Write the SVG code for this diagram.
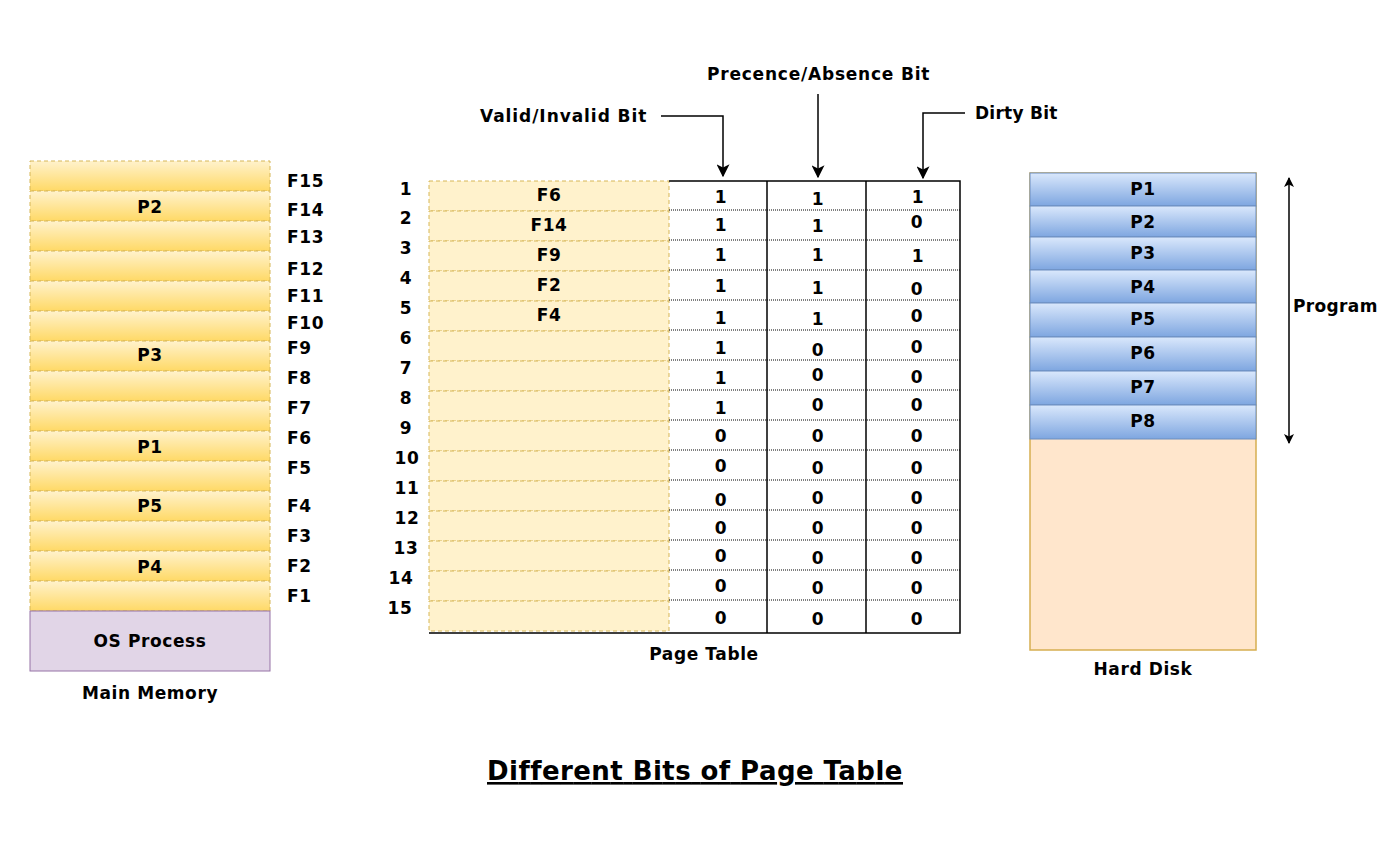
<svg xmlns="http://www.w3.org/2000/svg" width="1393" height="841" viewBox="0 0 1393 841">
<defs>
<linearGradient id="gy" x1="0" y1="0" x2="0" y2="1"><stop offset="0" stop-color="#fff2cc"/><stop offset="1" stop-color="#ffd966"/></linearGradient>
<linearGradient id="gb" x1="0" y1="0" x2="0" y2="1"><stop offset="0" stop-color="#dae8fc"/><stop offset="1" stop-color="#7ea6e0"/></linearGradient>
<marker id="ah" viewBox="0 0 10 10" refX="9" refY="5" markerWidth="10" markerHeight="10" markerUnits="userSpaceOnUse" orient="auto-start-reverse"><path d="M0,0 L10,5 L0,10 L2.5,5 Z" fill="#000"/></marker>
<marker id="ah2" viewBox="0 0 10 10" refX="9" refY="5" markerWidth="13" markerHeight="13" markerUnits="userSpaceOnUse" orient="auto-start-reverse"><path d="M0,0 L10,5 L0,10 L2.5,5 Z" fill="#000"/></marker>
<style>
text{font-family:"DejaVu Sans",Verdana,sans-serif;font-weight:bold;font-size:17px;letter-spacing:0.6px;fill:#000}
.c{text-anchor:middle}
.mm{fill:url(#gy);stroke:#d6b656;stroke-dasharray:4 3}
.pt{fill:#fff2cc;stroke:#d6b656;stroke-dasharray:4 3}
.hd{fill:url(#gb);stroke:#6c8ebf}
.dot{stroke:#000;stroke-width:1;stroke-dasharray:1 1}
.ln{stroke:#000;stroke-width:1.5;fill:none}
</style>
</defs>
<rect width="1393" height="841" fill="#fff"/>

<g id="main-memory">
<rect class="mm" x="30" y="161" width="240" height="30"/>
<rect class="mm" x="30" y="191" width="240" height="30"/>
<rect class="mm" x="30" y="221" width="240" height="30"/>
<rect class="mm" x="30" y="251" width="240" height="30"/>
<rect class="mm" x="30" y="281" width="240" height="30"/>
<rect class="mm" x="30" y="311" width="240" height="30"/>
<rect class="mm" x="30" y="341" width="240" height="30"/>
<rect class="mm" x="30" y="371" width="240" height="30"/>
<rect class="mm" x="30" y="401" width="240" height="30"/>
<rect class="mm" x="30" y="431" width="240" height="30"/>
<rect class="mm" x="30" y="461" width="240" height="30"/>
<rect class="mm" x="30" y="491" width="240" height="30"/>
<rect class="mm" x="30" y="521" width="240" height="30"/>
<rect class="mm" x="30" y="551" width="240" height="30"/>
<rect class="mm" x="30" y="581" width="240" height="30"/>
<rect x="30" y="611" width="240" height="60" fill="#e1d5e7" stroke="#9673a6"/>
<text class="c" x="150" y="213">P2</text>
<text class="c" x="150" y="361">P3</text>
<text class="c" x="150" y="453">P1</text>
<text class="c" x="150" y="512">P5</text>
<text class="c" x="150" y="573">P4</text>
<text class="c" x="150" y="647">OS Process</text>
<text class="c" x="150" y="699">Main Memory</text>
<text x="287" y="187">F15</text>
<text x="287" y="216">F14</text>
<text x="287" y="243">F13</text>
<text x="287" y="275">F12</text>
<text x="287" y="302">F11</text>
<text x="287" y="329">F10</text>
<text x="287" y="354">F9</text>
<text x="287" y="384">F8</text>
<text x="287" y="414">F7</text>
<text x="287" y="444">F6</text>
<text x="287" y="474">F5</text>
<text x="287" y="512">F4</text>
<text x="287" y="542">F3</text>
<text x="287" y="572">F2</text>
<text x="287" y="602">F1</text>
</g>

<g id="page-table">
<rect class="pt" x="429" y="181" width="240" height="30"/>
<rect class="pt" x="429" y="211" width="240" height="30"/>
<rect class="pt" x="429" y="241" width="240" height="30"/>
<rect class="pt" x="429" y="271" width="240" height="30"/>
<rect class="pt" x="429" y="301" width="240" height="30"/>
<rect class="pt" x="429" y="331" width="240" height="30"/>
<rect class="pt" x="429" y="361" width="240" height="30"/>
<rect class="pt" x="429" y="391" width="240" height="30"/>
<rect class="pt" x="429" y="421" width="240" height="30"/>
<rect class="pt" x="429" y="451" width="240" height="30"/>
<rect class="pt" x="429" y="481" width="240" height="30"/>
<rect class="pt" x="429" y="511" width="240" height="30"/>
<rect class="pt" x="429" y="541" width="240" height="30"/>
<rect class="pt" x="429" y="571" width="240" height="30"/>
<rect class="pt" x="429" y="601" width="240" height="30"/>
<g class="dot">
<line x1="669" y1="210" x2="960" y2="210"/>
<line x1="669" y1="240" x2="960" y2="240"/>
<line x1="669" y1="270" x2="960" y2="270"/>
<line x1="669" y1="300" x2="960" y2="300"/>
<line x1="669" y1="330" x2="960" y2="330"/>
<line x1="669" y1="360" x2="960" y2="360"/>
<line x1="669" y1="390" x2="960" y2="390"/>
<line x1="669" y1="420" x2="960" y2="420"/>
<line x1="669" y1="450" x2="960" y2="450"/>
<line x1="669" y1="480" x2="960" y2="480"/>
<line x1="669" y1="510" x2="960" y2="510"/>
<line x1="669" y1="540" x2="960" y2="540"/>
<line x1="669" y1="570" x2="960" y2="570"/>
<line x1="669" y1="600" x2="960" y2="600"/>
</g>
<path class="ln" d="M669,181 H960 V633 H429"/>
<line class="ln" x1="767" y1="181" x2="767" y2="633"/>
<line class="ln" x1="866" y1="181" x2="866" y2="633"/>
<text class="c" x="406" y="195">1</text>
<text class="c" x="406" y="224">2</text>
<text class="c" x="406" y="254">3</text>
<text class="c" x="406" y="284">4</text>
<text class="c" x="406" y="314">5</text>
<text class="c" x="406" y="344">6</text>
<text class="c" x="406" y="374">7</text>
<text class="c" x="406" y="404">8</text>
<text class="c" x="406" y="434">9</text>
<text class="c" x="407" y="464">10</text>
<text class="c" x="407" y="494">11</text>
<text class="c" x="407" y="524">12</text>
<text class="c" x="406" y="554">13</text>
<text class="c" x="401" y="584">14</text>
<text class="c" x="400" y="614">15</text>
<text class="c" x="549" y="201">F6</text>
<text class="c" x="549" y="231">F14</text>
<text class="c" x="549" y="261">F9</text>
<text class="c" x="549" y="291">F2</text>
<text class="c" x="549" y="321">F4</text>
<g>
<text class="c" x="721" y="203">1</text><text class="c" x="818" y="205">1</text><text class="c" x="918" y="203">1</text>
<text class="c" x="721" y="231">1</text><text class="c" x="818" y="232">1</text><text class="c" x="917" y="228">0</text>
<text class="c" x="721" y="261">1</text><text class="c" x="818" y="261">1</text><text class="c" x="918" y="262">1</text>
<text class="c" x="721" y="292">1</text><text class="c" x="818" y="294">1</text><text class="c" x="917" y="295">0</text>
<text class="c" x="721" y="324">1</text><text class="c" x="818" y="325">1</text><text class="c" x="917" y="322">0</text>
<text class="c" x="721" y="354">1</text><text class="c" x="818" y="356">0</text><text class="c" x="917" y="353">0</text>
<text class="c" x="721" y="384">1</text><text class="c" x="818" y="381">0</text><text class="c" x="917" y="383">0</text>
<text class="c" x="721" y="414">1</text><text class="c" x="818" y="411">0</text><text class="c" x="917" y="411">0</text>
<text class="c" x="721" y="442">0</text><text class="c" x="818" y="442">0</text><text class="c" x="917" y="442">0</text>
<text class="c" x="721" y="472">0</text><text class="c" x="818" y="474">0</text><text class="c" x="917" y="474">0</text>
<text class="c" x="721" y="506">0</text><text class="c" x="818" y="504">0</text><text class="c" x="917" y="504">0</text>
<text class="c" x="721" y="534">0</text><text class="c" x="818" y="534">0</text><text class="c" x="917" y="534">0</text>
<text class="c" x="721" y="562">0</text><text class="c" x="818" y="564">0</text><text class="c" x="917" y="564">0</text>
<text class="c" x="721" y="592">0</text><text class="c" x="818" y="594">0</text><text class="c" x="917" y="594">0</text>
<text class="c" x="721" y="624">0</text><text class="c" x="818" y="625">0</text><text class="c" x="917" y="625">0</text>
</g>
<text class="c" x="704" y="660">Page Table</text>
</g>

<g id="hard-disk">
<rect x="1030" y="173" width="226" height="477" fill="#ffe6cc" stroke="#d6ae50" stroke-width="1.5"/>
<rect class="hd" x="1030" y="173" width="226" height="33"/>
<rect class="hd" x="1030" y="206" width="226" height="31"/>
<rect class="hd" x="1030" y="237" width="226" height="33"/>
<rect class="hd" x="1030" y="270" width="226" height="33"/>
<rect class="hd" x="1030" y="303" width="226" height="34"/>
<rect class="hd" x="1030" y="337" width="226" height="34"/>
<rect class="hd" x="1030" y="371" width="226" height="34"/>
<rect class="hd" x="1030" y="405" width="226" height="34"/>
<text class="c" x="1143" y="195">P1</text>
<text class="c" x="1143" y="228">P2</text>
<text class="c" x="1143" y="259">P3</text>
<text class="c" x="1143" y="293">P4</text>
<text class="c" x="1143" y="325">P5</text>
<text class="c" x="1143" y="359">P6</text>
<text class="c" x="1143" y="393">P7</text>
<text class="c" x="1143" y="427">P8</text>
<text class="c" x="1143" y="675">Hard Disk</text>
</g>

<g id="labels">
<text x="480" y="122" textLength="167" lengthAdjust="spacing">Valid/Invalid Bit</text>
<text x="707" y="80" textLength="223" lengthAdjust="spacing">Precence/Absence Bit</text>
<text x="975" y="119" textLength="83" lengthAdjust="spacing">Dirty Bit</text>
<text x="1293" y="312" textLength="85" lengthAdjust="spacing">Program</text>
<text x="487" y="780" textLength="416" lengthAdjust="spacing" style="font-size:26px;text-decoration:underline">Different Bits of Page Table</text>
</g>

<g id="connectors">
<path class="ln" d="M661,116 H723 V176" marker-end="url(#ah2)"/>
<path class="ln" d="M818,94 V177" marker-end="url(#ah2)"/>
<path class="ln" d="M965,113 H923 V178" marker-end="url(#ah2)"/>
<line class="ln" x1="1289" y1="178" x2="1289" y2="443" marker-start="url(#ah)" marker-end="url(#ah)"/>
</g>
</svg>
